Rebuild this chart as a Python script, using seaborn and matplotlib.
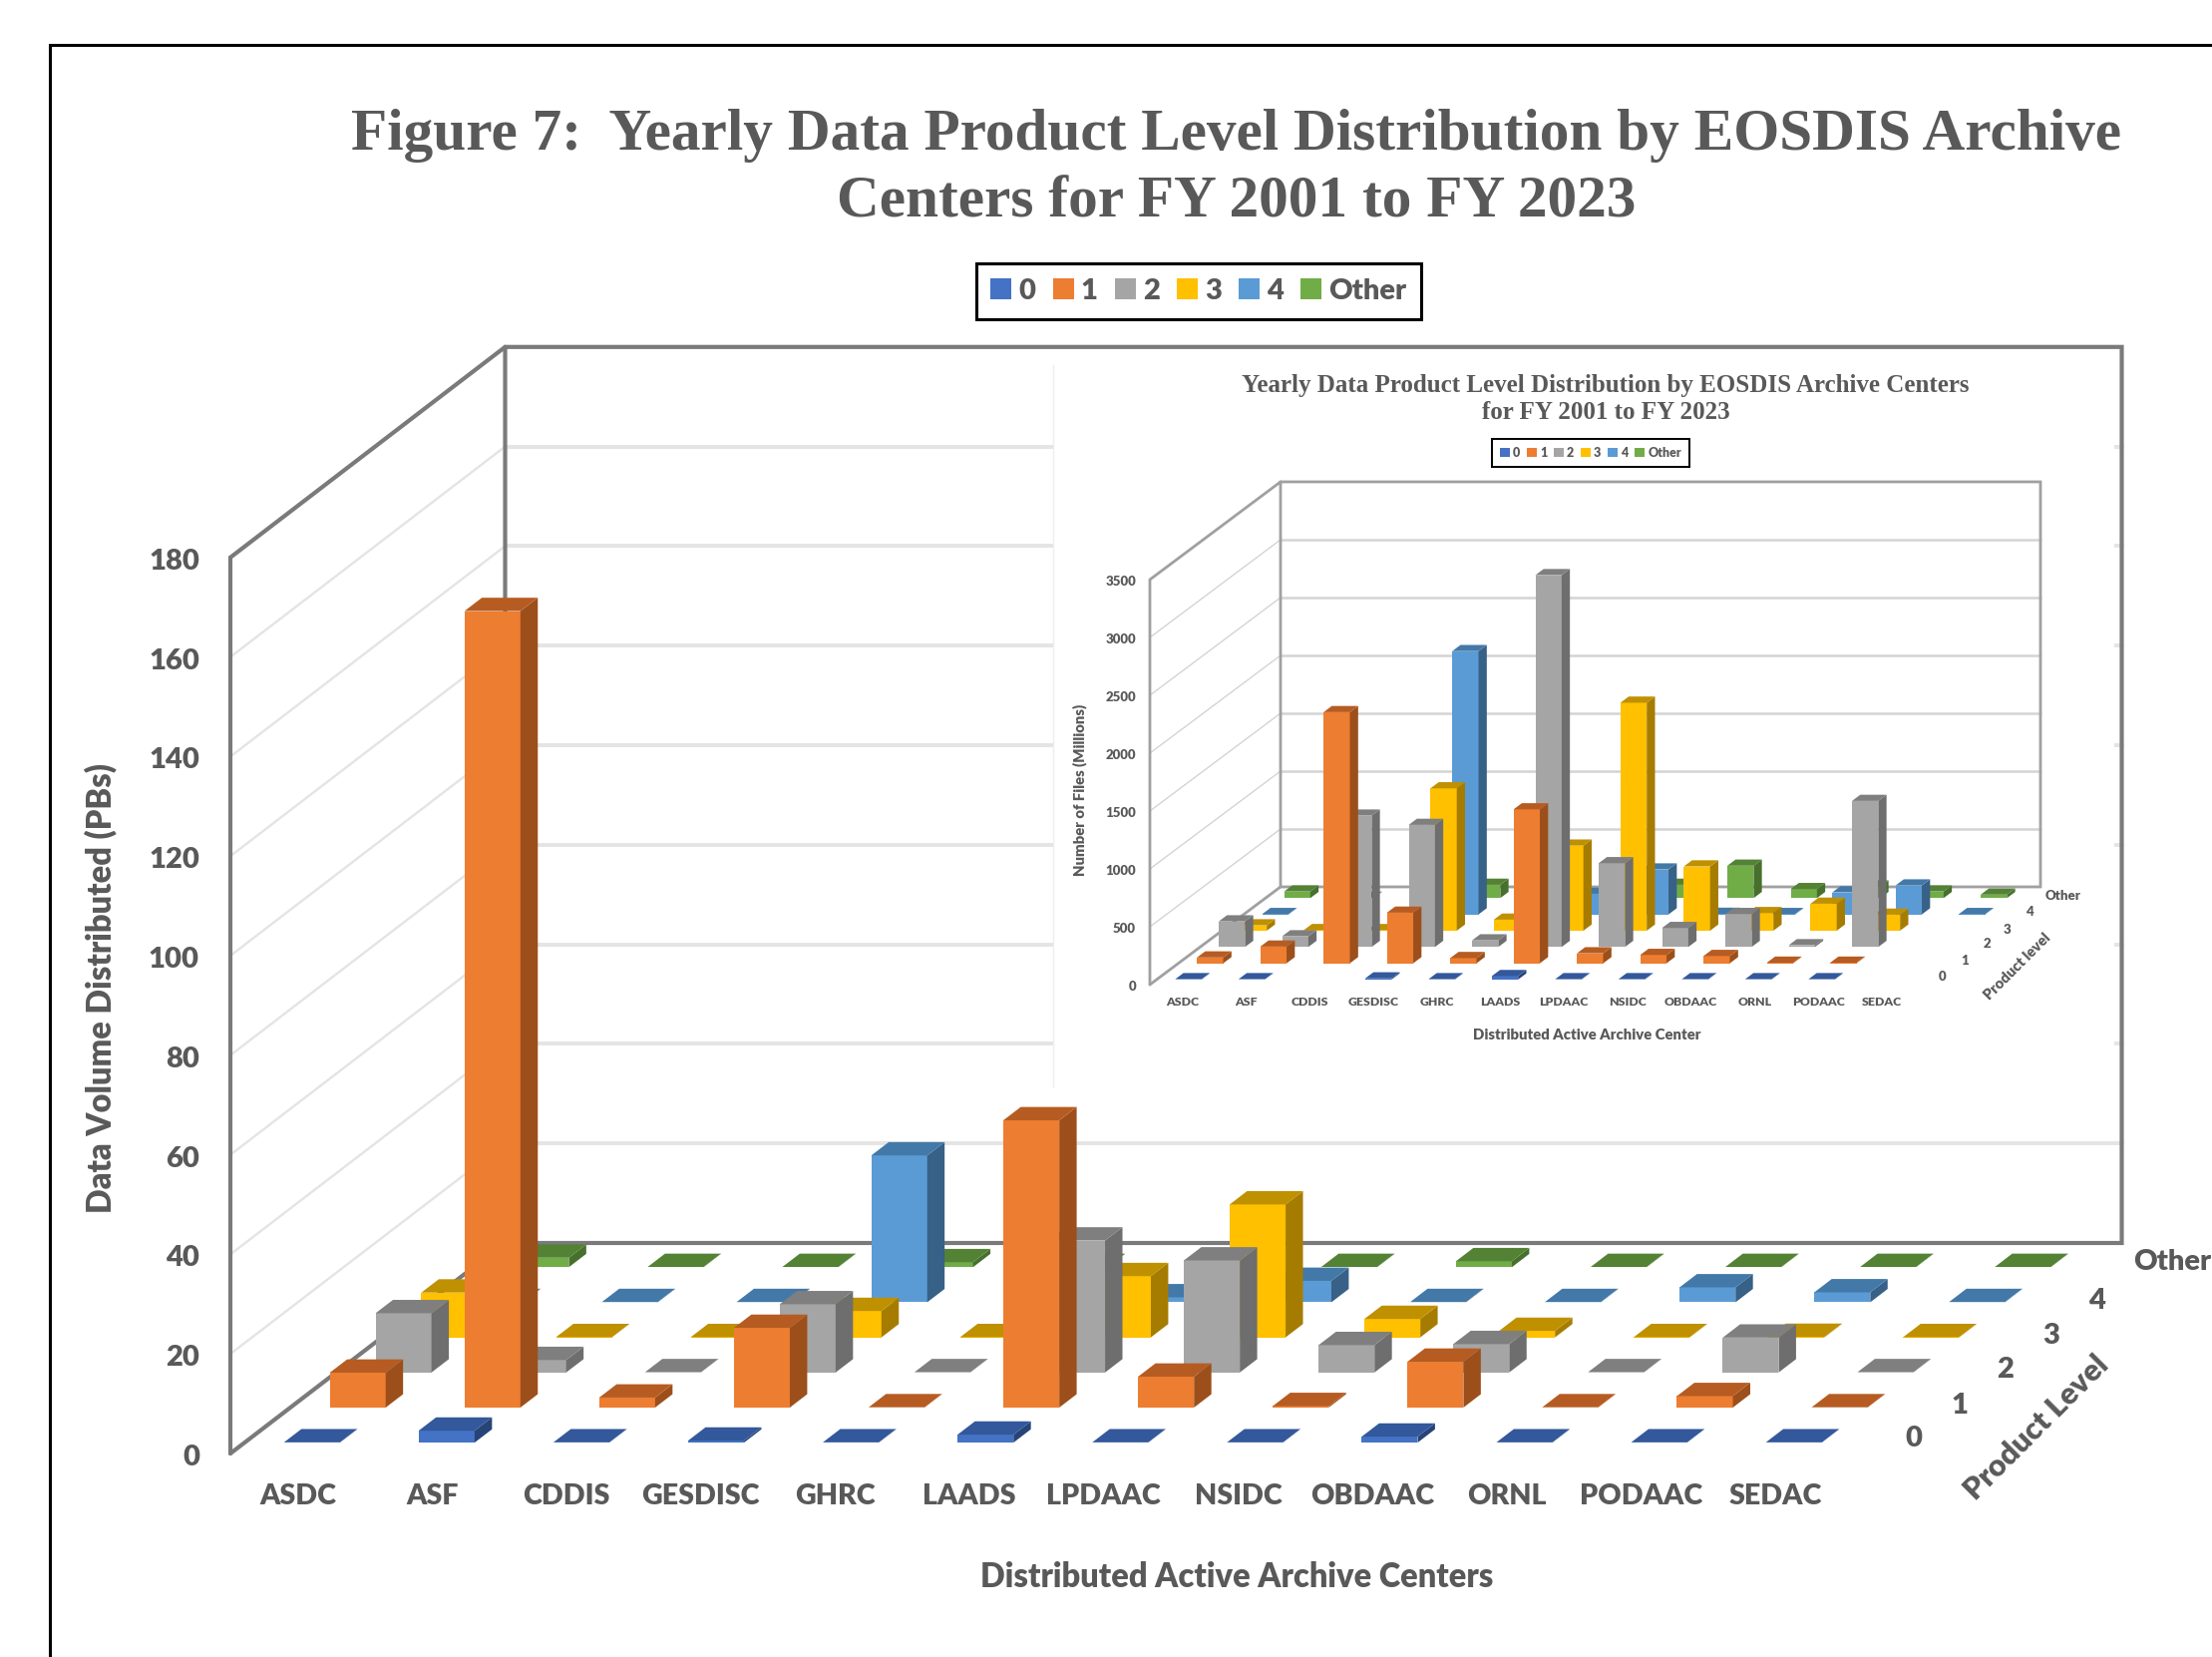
import matplotlib
matplotlib.use("Agg")
import matplotlib.pyplot as plt
from matplotlib.patches import Patch, Rectangle
import numpy as np
import pandas as pd
import seaborn as sns

sns.set_theme(style="white")
plt.rcParams['font.family'] = ['Lato', 'DejaVu Sans']

W, H = 2218, 1661
nan = float('nan')
BOLD = "heavy"

centers = ["ASDC", "ASF", "CDDIS", "GESDISC", "GHRC", "LAADS", "LPDAAC", "NSIDC",
           "OBDAAC", "ORNL", "PODAAC", "SEDAC"]
levels = ["0", "1", "2", "3", "4", "Other"]

# Data volume distributed (PBs)
vol_0 = [0.05, 2.4, 0.05, 0.4, 0.05, 1.6, 0.05, 0.05, 1.2, 0.05, 0.05, 0.05]
vol_1 = [7, 160, 2, 16, 0.05, 57.7, 6.2, 0.3, 9.2, 0.05, 2.3, 0.05]
vol_2 = [11.9, 2.5, 0.05, 13.7, 0.05, 26.5, 22.5, 5.5, 5.7, 0.05, 7, 0.05]
vol_3 = [9, 0.05, 0.05, 5.3, 0.05, 12.3, 26.7, 3.7, 1.3, 0.05, 0.1, 0.05]
vol_4 = [0.05, 0.05, 0.05, 29.5, 0.05, 1, 4.3, 0.05, 0.05, 3, 2, 0.05]
vol_o = [1.9, 0.05, 0.05, 1, 0.05, 0.05, 0.05, 1.2, 0.05, 0.05, 0.05, 0.05]

# Number of files (millions)
files_0 = [3, 3, nan, 10, 3, 30, 3, 3, 3, 3, 3, nan]
files_1 = [50, 144, 2170, 437, 45, 1330, 86, 72, 63, 5, 5, nan]
files_2 = [221, 92, 1135, 1055, 57, 3213, 724, 164, 285, 15, 1262, nan]
files_3 = [46, 5, 5, 1230, 95, 735, 1970, 555, 152, 233, 138, nan]
files_4 = [3, 3, nan, 2275, 3, 178, 388, 5, 3, 190, 250, 3]
files_o = [57, 3, 3, 115, 3, 3, 115, 280, 78, 100, 57, 30]

vol_ticks = list(range(0, 181, 20))
files_ticks = list(range(0, 3501, 500))

front_cols = sns.color_palette(["#4472C4", "#ED7D31", "#A5A5A5", "#FFC000", "#5B9BD5", "#70AD47"])
top_cols = sns.color_palette(["#33589B", "#B65C22", "#7F7F7F", "#BF9000", "#4379A8", "#548235"])
side_cols = sns.color_palette(["#264478", "#9C4F1A", "#6E6E6E", "#A67C00", "#376186", "#47702D"])

TXT = "#595959"
fig = plt.figure(figsize=(W / 100, H / 100), dpi=100, facecolor="white")
base = fig.add_axes([0, 0, 1, 1])
base.set_xlim(0, W)
base.set_ylim(H, 0)
base.axis("off")


def chart(series, ticks, x0, y0, wall_w, depth_x, depth_y, unit, frame_lw, frame_c, grid_lw, grid_c, side_lw, z):
    """Oblique 3-D look: one seaborn bar axes per depth row, shifted along the depth vector."""
    ymax = ticks[-1]
    cell = wall_w / len(centers)
    stepx, stepy = depth_x / len(levels), depth_y / len(levels)
    top_y = y0 - ymax * unit
    for t in ticks[1:-1]:
        y = y0 - t * unit
        base.plot([x0 + depth_x, x0 + depth_x + wall_w], [y - depth_y] * 2, color=grid_c, lw=grid_lw, zorder=z)
        base.plot([x0, x0 + depth_x], [y, y - depth_y], color=grid_c, lw=side_lw, zorder=z)
    bx, by = x0 + depth_x, y0 - depth_y
    base.plot([x0, x0, bx, bx + wall_w, bx + wall_w, bx, bx],
              [y0, top_y, top_y - depth_y, top_y - depth_y, by, by, top_y - depth_y],
              color=frame_c, lw=frame_lw, zorder=z + 0.5, solid_joinstyle="miter")
    base.plot([x0, bx], [y0, by], color=frame_c, lw=frame_lw, zorder=z + 0.5)
    frac_d, frac_w = 0.38, 0.415
    gap = (1 - frac_d) / 2
    for k in range(len(levels) - 1, -1, -1):
        left = x0 + (k + gap) * stepx
        bottom = y0 - (k + gap) * stepy
        ax = fig.add_axes([left / W, (H - bottom) / H, wall_w / W, ymax * unit / H])
        df = pd.DataFrame({"center": centers, "value": series[k]})
        sns.barplot(data=df, x="center", y="value", order=centers, color=front_cols[k],
                    saturation=1, width=frac_w, errorbar=None, ax=ax, linewidth=0)
        ddx = frac_d * stepx / cell
        ddy = frac_d * stepy / unit
        for p in list(ax.patches):
            x, w, h = p.get_x(), p.get_width(), p.get_height()
            if not np.isfinite(h):
                continue
            ax.fill([x + w, x + w + ddx, x + w + ddx, x + w], [0, ddy, h + ddy, h],
                    color=side_cols[k], lw=0, clip_on=False)
            ax.fill([x, x + w, x + w + ddx, x + ddx], [h, h, h + ddy, h + ddy],
                    color=top_cols[k], lw=0, clip_on=False)
            p.set_clip_on(False)
        ax.set_xlim(-0.5, len(centers) - 0.5)
        ax.set_ylim(0, ymax)
        ax.patch.set_alpha(0)
        ax.axis("off")
    return cell


def legend(cx, cy, size, lw, hl, pad, colsp):
    handles = [Patch(facecolor=c, edgecolor="none", label=l) for c, l in zip(front_cols, levels)]
    leg = base.legend(handles=handles, loc="center", bbox_to_anchor=(cx, cy), bbox_transform=base.transData,
                      ncols=6, frameon=True, fancybox=False, framealpha=1, edgecolor="black",
                      prop={"weight": BOLD, "size": size}, labelcolor=TXT,
                      handlelength=hl, handleheight=hl, handletextpad=0.25, columnspacing=colsp,
                      borderpad=pad, borderaxespad=0)
    leg.get_frame().set_linewidth(lw)
    leg.set_zorder(6)
    base.add_artist(leg)


# page border
base.plot([50, 50, W], [H, 45, 45], color="black", lw=2.2, zorder=0, solid_joinstyle="miter")

# main chart
vol = [vol_0, vol_1, vol_2, vol_3, vol_4, vol_o]
chart(vol, vol_ticks, 231, 1457, 1621, 275.5, 211, 4.99, 3.0, "#7a7a7a", 2.8, "#e4e4e4", 1.7, 1)

# white panel of the pasted-in chart hides the main wall's gridlines
base.add_patch(Rectangle((1056, 366), 1064, 724, facecolor="white", edgecolor="none", zorder=3))
base.plot([1056, 1056], [366, 1090], color="#eeeeee", lw=1, zorder=3)

base.text(1240, 136, "Figure 7:  Yearly Data Product Level Distribution by EOSDIS Archive",
          family="Liberation Serif", weight="bold", size=42.7, color=TXT, ha="center", va="center")
base.text(1240, 203, "Centers for FY 2001 to FY 2023",
          family="Liberation Serif", weight="bold", size=42.7, color=TXT, ha="center", va="center")
legend(1202, 292, 21, 2.2, 0.72, 0.5, 0.58)

for t in vol_ticks:
    base.text(200, 1461 - t * 4.99, str(t), ha="right", va="center", size=21, weight=BOLD, color=TXT)
for i, c in enumerate(centers):
    base.text(298.5 + 134.7 * i, 1500, c, ha="center", va="center", size=20.6, weight=BOLD, color=TXT)
for k, (l, x, y) in enumerate(zip(levels, [1919, 1965, 2011, 2057, 2103, 2139], [1442, 1409, 1373, 1339, 1304, 1265])):
    base.text(x, y, l, ha="left" if l == "Other" else "center", va="center", size=21, weight=BOLD, color=TXT)
base.text(1240, 1581, "Distributed Active Archive Centers", ha="center", va="center", size=23.5, weight=BOLD, color=TXT)
base.text(101, 990, "Data Volume Distributed (PBs)", ha="center", va="center", rotation=90, size=23.5, weight=BOLD, color=TXT)
base.text(2042, 1431, "Product Level", ha="center", va="center", rotation=45, size=22, weight=BOLD, color=TXT)

# inset chart
files = [files_0, files_1, files_2, files_3, files_4, files_o]
chart(files, files_ticks, 1153, 987, 762, 131, 98, 0.116, 2.0, "#a0a0a0", 1.8, "#d4d4d4", 1.0, 4)

base.text(1610, 386, "Yearly Data Product Level Distribution by EOSDIS Archive Centers",
          family="Liberation Serif", weight="bold", size=18, color=TXT, ha="center", va="center", zorder=5)
base.text(1610, 414, "for FY 2001 to FY 2023",
          family="Liberation Serif", weight="bold", size=18, color=TXT, ha="center", va="center", zorder=5)
legend(1595, 454, 9, 1.4, 0.78, 0.62, 0.55)

for t in files_ticks:
    base.text(1139, 989 - t * 0.116, str(t), ha="right", va="center", size=9.5, weight=BOLD, color=TXT, zorder=5)
for i, c in enumerate(centers):
    base.text(1186 + 63.7 * i, 1005, c, ha="center", va="center", size=8.8, weight=BOLD, color=TXT, zorder=5)
for l, x, y in zip(levels, [1948, 1970, 1992, 2013, 2035, 2051], [979, 963, 946, 932, 914, 898]):
    base.text(x, y, l, ha="left" if l == "Other" else "center", va="center", size=9.5, weight=BOLD, color=TXT, zorder=5)
base.text(1591, 1038, "Distributed Active Archive Center", ha="center", va="center", size=10.7, weight=BOLD, color=TXT, zorder=5)
base.text(1083, 792, "Number of Files (Millions)", ha="center", va="center", rotation=90, size=10.7, weight=BOLD, color=TXT, zorder=5)
base.text(2023, 969, "Product level", ha="center", va="center", rotation=45, size=10.5, weight=BOLD, color=TXT, zorder=5)

fig.savefig("out.png", dpi=100, facecolor="white")
